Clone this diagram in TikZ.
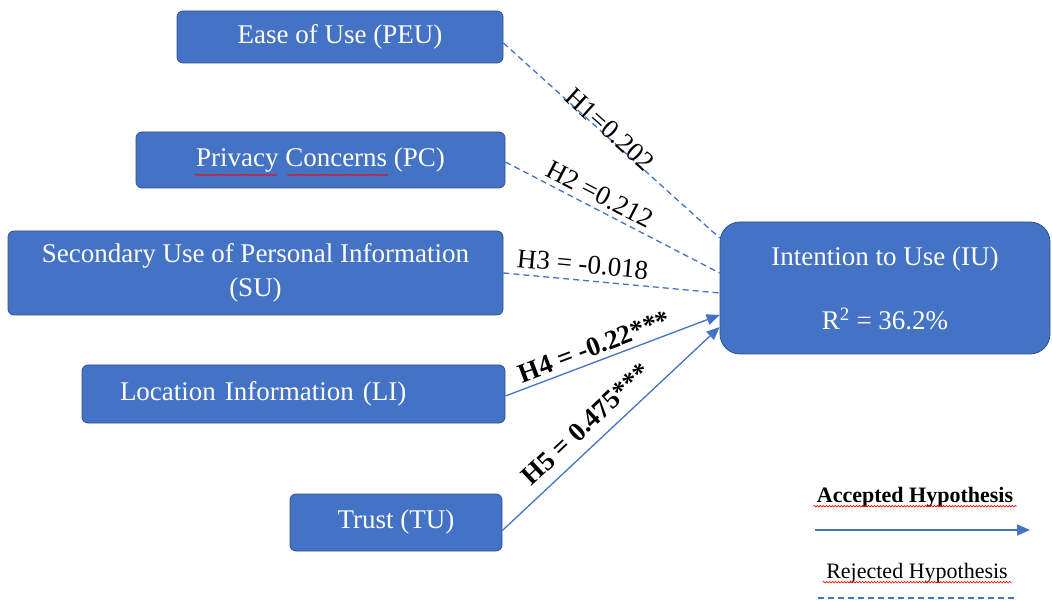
\documentclass[tikz,border=0pt]{standalone}
\usepackage{fontspec}
\setmainfont{Liberation Serif}
\usetikzlibrary{arrows.meta,decorations.pathmorphing}
\definecolor{boxblue}{HTML}{4472C4}
\definecolor{boxedge}{HTML}{2F528F}
\definecolor{lineblue}{HTML}{4472C4}
\tikzset{
  factor/.style={draw=boxedge, line width=0.8pt, fill=boxblue, text=white, rounded corners=6pt,
    inner sep=0pt, align=center, font=\fontsize{27}{34}\selectfont},
  accepted/.style={lineblue, line width=1.3pt, -{Triangle[length=13pt,width=11pt]}},
  rejected/.style={lineblue, line width=1.3pt, dash pattern=on 6pt off 4pt},
  coef/.style={sloped, inner sep=0pt, text=black, font=\fontsize{27}{30}\selectfont},
  spell/.style={red, line width=0.6pt, decorate, decoration={snake, amplitude=0.8pt, segment length=3pt}}
}
\begin{document}
\begin{tikzpicture}[x=1pt,y=-1pt]
\useasboundingbox (0,0) rectangle (1052,601);
   \node[factor, minimum width=326pt, minimum height=52pt] at (340,37) (peu) {Ease of Use (PEU)};
   \node[factor, minimum width=369pt, minimum height=56pt] at (320.5,160) (pc) {Privacy Concerns (PC)};
   \node[factor, minimum width=495pt, minimum height=84pt] at (255.5,273) (su) {Secondary Use of Personal Information\\(SU)};
   \node[factor, minimum width=423pt, minimum height=58pt, inner xsep=38pt, text width=347pt, align=left] at (293.5,394) (li) {Location Information (LI)};
   \node[factor, minimum width=212pt, minimum height=57pt] at (396,522.5) (tu) {Trust (TU)};
   \node[factor, rounded corners=20pt, minimum width=330pt, minimum height=132pt] at (885,288) (iu) {Intention to Use (IU)\\[30pt]R\textsuperscript{2} = 36.2\%};

   \draw[rejected] ([yshift=-6pt]peu.east) -- ([yshift=50pt]iu.west) node[coef, pos=0.47, above=-3pt] {H1=0.202};
   \draw[rejected] ([yshift=-2pt]pc.east) -- ([yshift=15pt]iu.west) node[coef, pos=0.41, above=5pt] {H2 =0.212};
   \draw[rejected] (su.east) -- ([yshift=-5pt]iu.west) node[coef, pos=0.36, above=6pt] {H3 = -0.018};
   \draw[accepted] ([yshift=-2pt]li.east) -- ([yshift=-27pt]iu.west) node[coef, pos=0.44, above=5pt] {\bfseries H4 = -0.22***};
   \draw[accepted] ([yshift=-8pt]tu.east) -- ([yshift=-39pt]iu.west) node[coef, pos=0.45, above=11pt] {\bfseries H5 = 0.475***};

   % legend
   \node[font=\fontsize{22}{26}\selectfont\bfseries] at (915,497) (acc) {Accepted Hypothesis};
   \coordinate (accfrom) at (815,530);
   \coordinate (accto) at (1030,530);
   \draw[accepted] (accfrom) -- (accto);
   \node[font=\fontsize{22}{26}\selectfont] at (917,573) (rej) {Rejected Hypothesis};
   \coordinate (rejfrom) at (818,598);
   \coordinate (rejto) at (1015,598);
   \draw[rejected] (rejfrom) -- (rejto);

   \draw[spell] (195,175) -- (277,175);
   \draw[spell] (287,175) -- (388,175);
   \draw[spell] ([yshift=-4pt]acc.base west) -- ([yshift=-4pt]acc.base east);
   \draw[spell] ([yshift=-4pt]rej.base west) -- ([yshift=-4pt]rej.base east);
\end{tikzpicture}
\end{document}
